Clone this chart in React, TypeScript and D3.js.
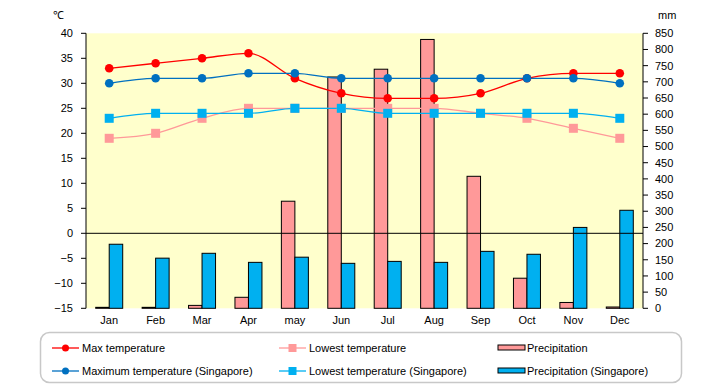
import React from "react";
import * as d3 from "d3";

const months = ["Jan", "Feb", "Mar", "Apr", "may", "Jun", "Jul", "Aug", "Sep", "Oct", "Nov", "Dec"];
const maxTemp = [33, 34, 35, 36, 31, 28, 27, 27, 28, 31, 32, 32];
const lowTemp = [19, 20, 23, 25, 25, 25, 25, 25, 24, 23, 21, 19];
const maxTempSg = [30, 31, 31, 32, 32, 31, 31, 31, 31, 31, 31, 30];
const lowTempSg = [23, 24, 24, 24, 25, 25, 24, 24, 24, 24, 24, 23];
const precip = [3, 3, 9, 34, 331, 715, 739, 831, 408, 93, 18, 4];
const precipSg = [198, 155, 170, 142, 158, 139, 145, 142, 176, 167, 250, 303];
const tempTicks = [40, 35, 30, 25, 20, 15, 10, 5, 0, -5, -10, -15];
const precipTicks = [850, 800, 750, 700, 650, 600, 550, 500, 450, 400, 350, 300, 250, 200, 150, 100, 50, 0];

const W = 720;
const H = 385;
const L = 86;
const R = 643;
const T = 33.3;
const B = 308.3;
const FONT = "'Liberation Sans', Arial, sans-serif";

const RED = "#FF0000";
const PINK = "#FF9999";
const DBLUE = "#0070C0";
const CYAN = "#00B0F0";

export default function App() {
  const x = d3.scaleBand<string>().domain(months).range([L, R]).padding(0);
  const yT = d3.scaleLinear().domain([-15, 40]).range([B, T]);
  const yP = d3.scaleLinear().domain([0, 850]).range([B, T]);
  const cx = (m: string) => (x(m) as number) + x.bandwidth() / 2;
  const barW = 13.5;

  const line = (vals: number[]) =>
    d3
      .line<number>()
      .x((_, i) => cx(months[i]))
      .y((d) => yT(d))
      .curve(d3.curveMonotoneX)(vals) as string;

  const circles = (vals: number[], color: string) =>
    vals.map((v, i) => <circle key={i} cx={cx(months[i])} cy={yT(v)} r={4.3} fill={color} />);
  const squares = (vals: number[], color: string) =>
    vals.map((v, i) => (
      <rect key={i} x={cx(months[i]) - 4.5} y={yT(v) - 4.5} width={9} height={9} fill={color} />
    ));

  const legendItems = [
    { label: "Max temperature", x: 52, y: 348, kind: "circle", color: RED },
    { label: "Lowest temperature", x: 279, y: 348, kind: "square", color: PINK },
    { label: "Precipitation", x: 498, y: 348, kind: "bar", color: PINK },
    { label: "Maximum temperature (Singapore)", x: 52, y: 371, kind: "circle", color: DBLUE },
    { label: "Lowest temperature (Singapore)", x: 279, y: 371, kind: "square", color: CYAN },
    { label: "Precipitation (Singapore)", x: 498, y: 371, kind: "bar", color: CYAN },
  ];

  return (
    <svg width={W} height={H} style={{ position: "absolute", left: 0, top: 0, background: "#fff" }} fontFamily={FONT}>
      <rect x={L} y={T} width={R - L} height={B - T} fill="#FFFFCC" />

      {/* bars */}
      {months.map((m, i) => (
        <g key={m}>
          <rect x={cx(m) - barW} y={yP(precip[i])} width={barW} height={B - yP(precip[i])} fill={PINK} stroke="#000" strokeWidth={1} />
          <rect x={cx(m)} y={yP(precipSg[i])} width={barW} height={B - yP(precipSg[i])} fill={CYAN} stroke="#000" strokeWidth={1} />
        </g>
      ))}

      {/* zero line */}
      <line x1={L} x2={R} y1={yT(0)} y2={yT(0)} stroke="#000" strokeWidth={1} />

      {/* lines */}
      <path d={line(lowTemp)} fill="none" stroke={PINK} strokeWidth={1.3} />
      <path d={line(lowTempSg)} fill="none" stroke={CYAN} strokeWidth={1.3} />
      <path d={line(maxTemp)} fill="none" stroke={RED} strokeWidth={1.3} />
      <path d={line(maxTempSg)} fill="none" stroke={DBLUE} strokeWidth={1.3} />
      {squares(lowTemp, PINK)}
      {squares(lowTempSg, CYAN)}
      {circles(maxTemp, RED)}
      {circles(maxTempSg, DBLUE)}

      {/* left axis */}
      <line x1={L} x2={L} y1={T} y2={B} stroke="#000" />
      {tempTicks.map((t) => (
        <g key={t}>
          <line x1={L - 5} x2={L} y1={yT(t)} y2={yT(t)} stroke="#000" />
          <text x={73} y={yT(t)} dy="0.35em" textAnchor="end" fontSize={11}>
            {t < 0 ? "\u2212" + Math.abs(t) : t}
          </text>
        </g>
      ))}
      <text x={53} y={19} fontSize={11}>℃</text>

      {/* right axis */}
      <line x1={R} x2={R} y1={T} y2={B} stroke="#000" />
      {precipTicks.map((t) => (
        <g key={t}>
          <line x1={R} x2={R + 5} y1={yP(t)} y2={yP(t)} stroke="#000" />
          <text x={655} y={yP(t)} dy="0.35em" textAnchor="start" fontSize={11}>
            {t}
          </text>
        </g>
      ))}
      <text x={658} y={19} fontSize={11}>mm</text>

      {/* x labels */}
      {months.map((m) => (
        <text key={m} x={cx(m)} y={324} textAnchor="middle" fontSize={11}>
          {m}
        </text>
      ))}

      {/* legend */}
      <rect x={40.5} y={332.5} width={641} height={50} rx={9} fill="#fff" stroke="#C8C8C8" strokeWidth={1.5} />
      {legendItems.map((it) => (
        <g key={it.label}>
          {it.kind === "bar" ? (
            <rect x={it.x} y={it.y - 3} width={27} height={5} fill={it.color} stroke="#000" strokeWidth={1} />
          ) : (
            <>
              <line x1={it.x} x2={it.x + 27} y1={it.y} y2={it.y} stroke={it.color} strokeWidth={1.3} />
              {it.kind === "circle" ? (
                <circle cx={it.x + 13.5} cy={it.y} r={3.5} fill={it.color} />
              ) : (
                <rect x={it.x + 9.5} y={it.y - 4} width={8} height={8} fill={it.color} />
              )}
            </>
          )}
          <text x={it.x + (it.kind === "bar" ? 29 : 30)} y={it.y} dy="0.35em" fontSize={11}>
            {it.label}
          </text>
        </g>
      ))}
    </svg>
  );
}
